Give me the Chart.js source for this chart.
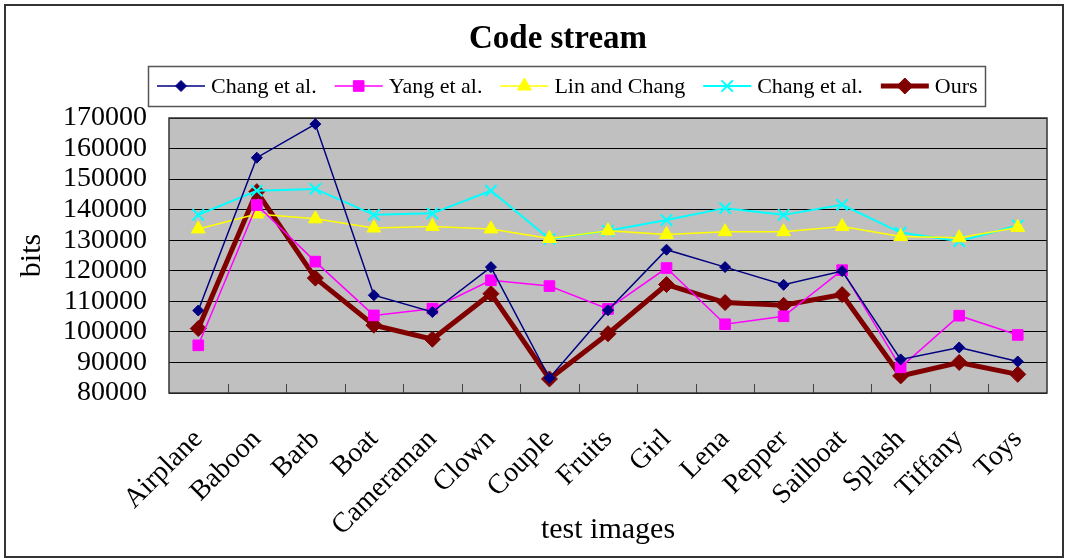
<!DOCTYPE html>
<html>
<head>
<meta charset="utf-8">
<script src="https://cdn.jsdelivr.net/npm/chart.js@4/dist/chart.umd.min.js"></script>
<style>
  html, body { margin: 0; padding: 0; background: #fff; }
  #wrap { width: 1065px; height: 558px; position: relative; }
</style>
</head>
<body>
<div id="wrap"><canvas id="codeChart"></canvas></div>
<script>
const categories = ["Airplane", "Baboon", "Barb", "Boat", "Cameraman", "Clown", "Couple", "Fruits",
    "Girl", "Lena", "Pepper", "Sailboat", "Splash", "Tiffany", "Toys"];
const yTicks = [80000, 90000, 100000, 110000, 120000, 130000, 140000, 150000, 160000, 170000];

const changA = [107000, 157000, 168000, 112000, 106500, 121200, 84900, 107100, 126900, 121200, 115400, 119900, 91000, 94900, 90300];
const yang = [95600, 141500, 123000, 105400, 107600, 116900, 115000, 107500, 120900, 102500, 105100, 120200, 88400, 105300, 99000];
const linChang = [133700, 138600, 137000, 134000, 134500, 133700, 130600, 133100, 131900, 132800, 132800, 134500, 131200, 130800, 134200];
const changB = [138300, 146200, 146800, 138300, 138800, 146200, 130400, 133100, 136600, 140500, 138300, 141600, 132500, 129700, 134800];
const ours = [101100, 145900, 117600, 102200, 97600, 112500, 84600, 99400, 115500, 109600, 108700, 112200, 85600, 90000, 86100];

const serif = "'Liberation Serif', 'Times New Roman', serif";

// background, plot frame, title, legend box
const decor = {
    id: "decor",
    beforeDraw(chart) {
        const { ctx, chartArea: a } = chart;
        ctx.save();
        ctx.fillStyle = "#fff";
        ctx.fillRect(0, 0, chart.width, chart.height);
        ctx.fillStyle = "#c0c0c0";
        ctx.fillRect(a.left, a.top, a.right - a.left, a.bottom - a.top);
        ctx.restore();
    },
    beforeDatasetsDraw(chart) {
        const { ctx, chartArea: a } = chart;
        ctx.save();
        ctx.strokeStyle = "#444";
        ctx.lineWidth = 1;
        const step = (a.right - a.left) / categories.length;
        for (let i = 1; i < categories.length; i++) {
            const px = Math.round(a.left + step * i) + 0.5;
            ctx.beginPath();
            ctx.moveTo(px, a.bottom);
            ctx.lineTo(px, a.bottom - 9);
            ctx.stroke();
        }
        ctx.strokeStyle = "#333";
        ctx.lineWidth = 1.5;
        ctx.strokeRect(a.left, a.top, a.right - a.left, a.bottom - a.top);
        ctx.restore();
    },
    afterDraw(chart) {
        const { ctx } = chart;
        ctx.save();
        // outer frame
        ctx.strokeStyle = "#333";
        ctx.lineWidth = 2;
        ctx.strokeRect(5, 5, 1058, 552);

        // title
        ctx.fillStyle = "#000";
        ctx.font = "bold 33px " + serif;
        ctx.textAlign = "center";
        ctx.textBaseline = "alphabetic";
        ctx.fillText("Code stream", 558, 48);

        // legend
        ctx.strokeStyle = "#555";
        ctx.lineWidth = 1.5;
        ctx.strokeRect(148.5, 66.5, 837, 40);
        ctx.font = "22px " + serif;
        ctx.textAlign = "left";
        ctx.textBaseline = "middle";
        let lx = 157;
        const ly = 86;
        chart.data.datasets.forEach((ds) => {
            ctx.strokeStyle = ds.borderColor;
            ctx.lineWidth = ds.borderWidth;
            ctx.beginPath();
            ctx.moveTo(lx, ly);
            ctx.lineTo(lx + 48, ly);
            ctx.stroke();
            ctx.fillStyle = ds.pointBackgroundColor;
            ctx.strokeStyle = ds.pointBorderColor;
            ctx.lineWidth = ds.pointBorderWidth;
            Chart.helpers.drawPoint(ctx, { pointStyle: ds.pointStyle, radius: ds.pointRadius, rotation: 0, borderWidth: ds.pointBorderWidth }, lx + 24, ly);
            ctx.fillStyle = "#000";
            ctx.fillText(ds.label, lx + 54, ly + 1);
            lx += 54 + ctx.measureText(ds.label).width + 18;
        });
        ctx.restore();
    }
};

new Chart(document.getElementById("codeChart"), {
    type: "line",
    data: {
        labels: categories,
        datasets: [
            {
                label: "Chang et al.", data: changA,
                borderColor: "#000080", borderWidth: 1.5,
                pointStyle: "rectRot", pointRadius: 5.5,
                pointBackgroundColor: "#000080", pointBorderColor: "#000080", pointBorderWidth: 1
            },
            {
                label: "Yang et al.", data: yang,
                borderColor: "#ff00ff", borderWidth: 1.5,
                pointStyle: "rect", pointRadius: 7.5,
                pointBackgroundColor: "#ff00ff", pointBorderColor: "#ff00ff", pointBorderWidth: 1
            },
            {
                label: "Lin and Chang", data: linChang,
                borderColor: "#ffff00", borderWidth: 1.5,
                pointStyle: "triangle", pointRadius: 8,
                pointBackgroundColor: "#ffff00", pointBorderColor: "#ffff00", pointBorderWidth: 1
            },
            {
                label: "Chang et al.", data: changB,
                borderColor: "#00ffff", borderWidth: 2,
                pointStyle: "crossRot", pointRadius: 8,
                pointBackgroundColor: "#00ffff", pointBorderColor: "#00ffff", pointBorderWidth: 2
            },
            {
                label: "Ours", data: ours,
                borderColor: "#800000", borderWidth: 5,
                pointStyle: "rectRot", pointRadius: 8,
                pointBackgroundColor: "#800000", pointBorderColor: "#800000", pointBorderWidth: 1
            }
        ]
    },
    options: {
        responsive: true,
        maintainAspectRatio: false,
        animation: false,
        layout: { padding: { top: 118, right: 18, bottom: 6, left: 6 } },
        plugins: {
            legend: { display: false },
            title: { display: false },
            tooltip: { enabled: false }
        },
        elements: { line: { tension: 0 } },
        scales: {
            x: {
                offset: true,
                afterFit: (scale) => {
                    scale.height = 159;
                    scale.paddingLeft = 0;
                    scale.paddingRight = 0;
                },
                grid: { display: false, drawTicks: false },
                border: { display: false },
                ticks: {
                    autoSkip: false, maxRotation: 45, minRotation: 45, padding: 30,
                    color: "#000", font: { family: serif, size: 28 }
                },
                title: {
                    display: true, text: "test images", color: "#000",
                    font: { family: serif, size: 30 }, padding: { top: 0, bottom: 4 }
                }
            },
            y: {
                min: 80000, max: 170000,
                afterFit: (scale) => { scale.width = 163; },
                afterBuildTicks: (scale) => { scale.ticks = yTicks.map((v) => ({ value: v })); },
                grid: { color: "#000", lineWidth: 1, drawTicks: false },
                border: { display: false },
                ticks: {
                    autoSkip: false, padding: 22, color: "#000",
                    font: { family: serif, size: 28 },
                    callback: (v) => String(v)
                },
                title: {
                    display: true, text: "bits", color: "#000",
                    font: { family: serif, size: 30 }, padding: { top: 8, bottom: 0 }
                }
            }
        }
    },
    plugins: [decor]
});
</script>
</body>
</html>
